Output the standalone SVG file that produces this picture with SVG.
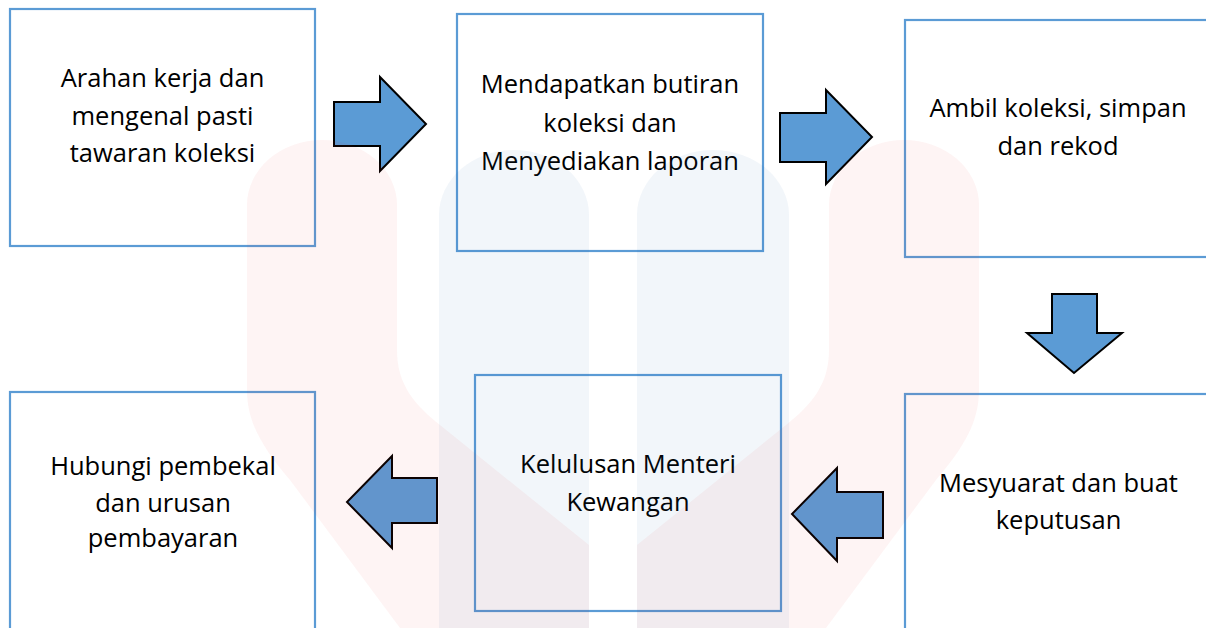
<svg xmlns="http://www.w3.org/2000/svg" width="1206" height="628" viewBox="0 0 1206 628">
<style>
.box{fill:none;stroke:#5b9bd5;stroke-width:2.2}
.lbl{font-family:"Open Sans","Noto Sans",sans-serif;font-size:25.5px;fill:#000;text-anchor:middle}
.arr{fill:#5b9bd5;stroke:#000;stroke-width:2;stroke-linejoin:miter}
.wr{fill:#e8302f;fill-opacity:0.05}
.wb{fill:#2a6db0;fill-opacity:0.06}
</style>
<rect width="1206" height="628" fill="#fff"/>
<g id="node1">
<rect class="box" x="10" y="9" width="305" height="237"/>
<text class="lbl" x="162.5" y="87">Arahan kerja dan</text>
<text class="lbl" x="162.5" y="125">mengenal pasti</text>
<text class="lbl" x="162.5" y="162">tawaran koleksi</text>
</g>
<g id="node2">
<rect class="box" x="457" y="14" width="306" height="237"/>
<text class="lbl" x="610" y="93">Mendapatkan butiran</text>
<text class="lbl" x="610" y="132">koleksi dan</text>
<text class="lbl" x="610" y="170">Menyediakan laporan</text>
</g>
<g id="node3">
<rect class="box" x="905" y="20" width="306" height="237"/>
<text class="lbl" x="1058" y="117">Ambil koleksi, simpan</text>
<text class="lbl" x="1058" y="155">dan rekod</text>
</g>
<g id="node4">
<rect class="box" x="905" y="394" width="306" height="240"/>
<text class="lbl" x="1058.5" y="492">Mesyuarat dan buat</text>
<text class="lbl" x="1058.5" y="529">keputusan</text>
</g>
<g id="node5">
<rect class="box" x="475" y="375" width="306" height="236"/>
<text class="lbl" x="628" y="473">Kelulusan Menteri</text>
<text class="lbl" x="628" y="511">Kewangan</text>
</g>
<g id="node6">
<rect class="box" x="10" y="392" width="305" height="240"/>
<text class="lbl" x="163" y="475">Hubungi pembekal</text>
<text class="lbl" x="163" y="512">dan urusan</text>
<text class="lbl" x="163" y="547">pembayaran</text>
</g>
<g id="connectors">
<polygon class="arr" points="334,102 380,102 380,77 426,124 380,171 380,146 334,146"/>
<polygon class="arr" points="780,113 826,113 826,90 872,137 826,184 826,162 780,162"/>
<polygon class="arr" points="1052,294 1097,294 1097,333 1122,333 1074,373 1027,333 1052,333"/>
<polygon class="arr" points="883,492 837,492 837,468 792,514 837,561 837,538 883,538"/>
<polygon class="arr" points="437,478 392,478 392,456 347,502 392,548 392,523 437,523"/>
</g>
<g id="watermark">
<path class="wb" d="M439,628 L439,215 A75,65 0 0 1 589,215 L589,628 Z"/>
<path class="wb" d="M637,628 L637,215 A76,65 0 0 1 789,215 L789,628 Z"/>
<path class="wr" d="M247,205 A75,65 0 0 1 397,205 L397,350 C397,385 415,405 440,425 L589,545 L589,628 L400,628 L290,480 C260,445 247,420 247,390 Z"/>
<path class="wr" d="M829,205 A75,65 0 0 1 979,205 L979,390 C979,420 966,445 936,480 L826,628 L637,628 L637,545 L786,425 C811,405 829,385 829,350 Z"/>
</g>
</svg>
